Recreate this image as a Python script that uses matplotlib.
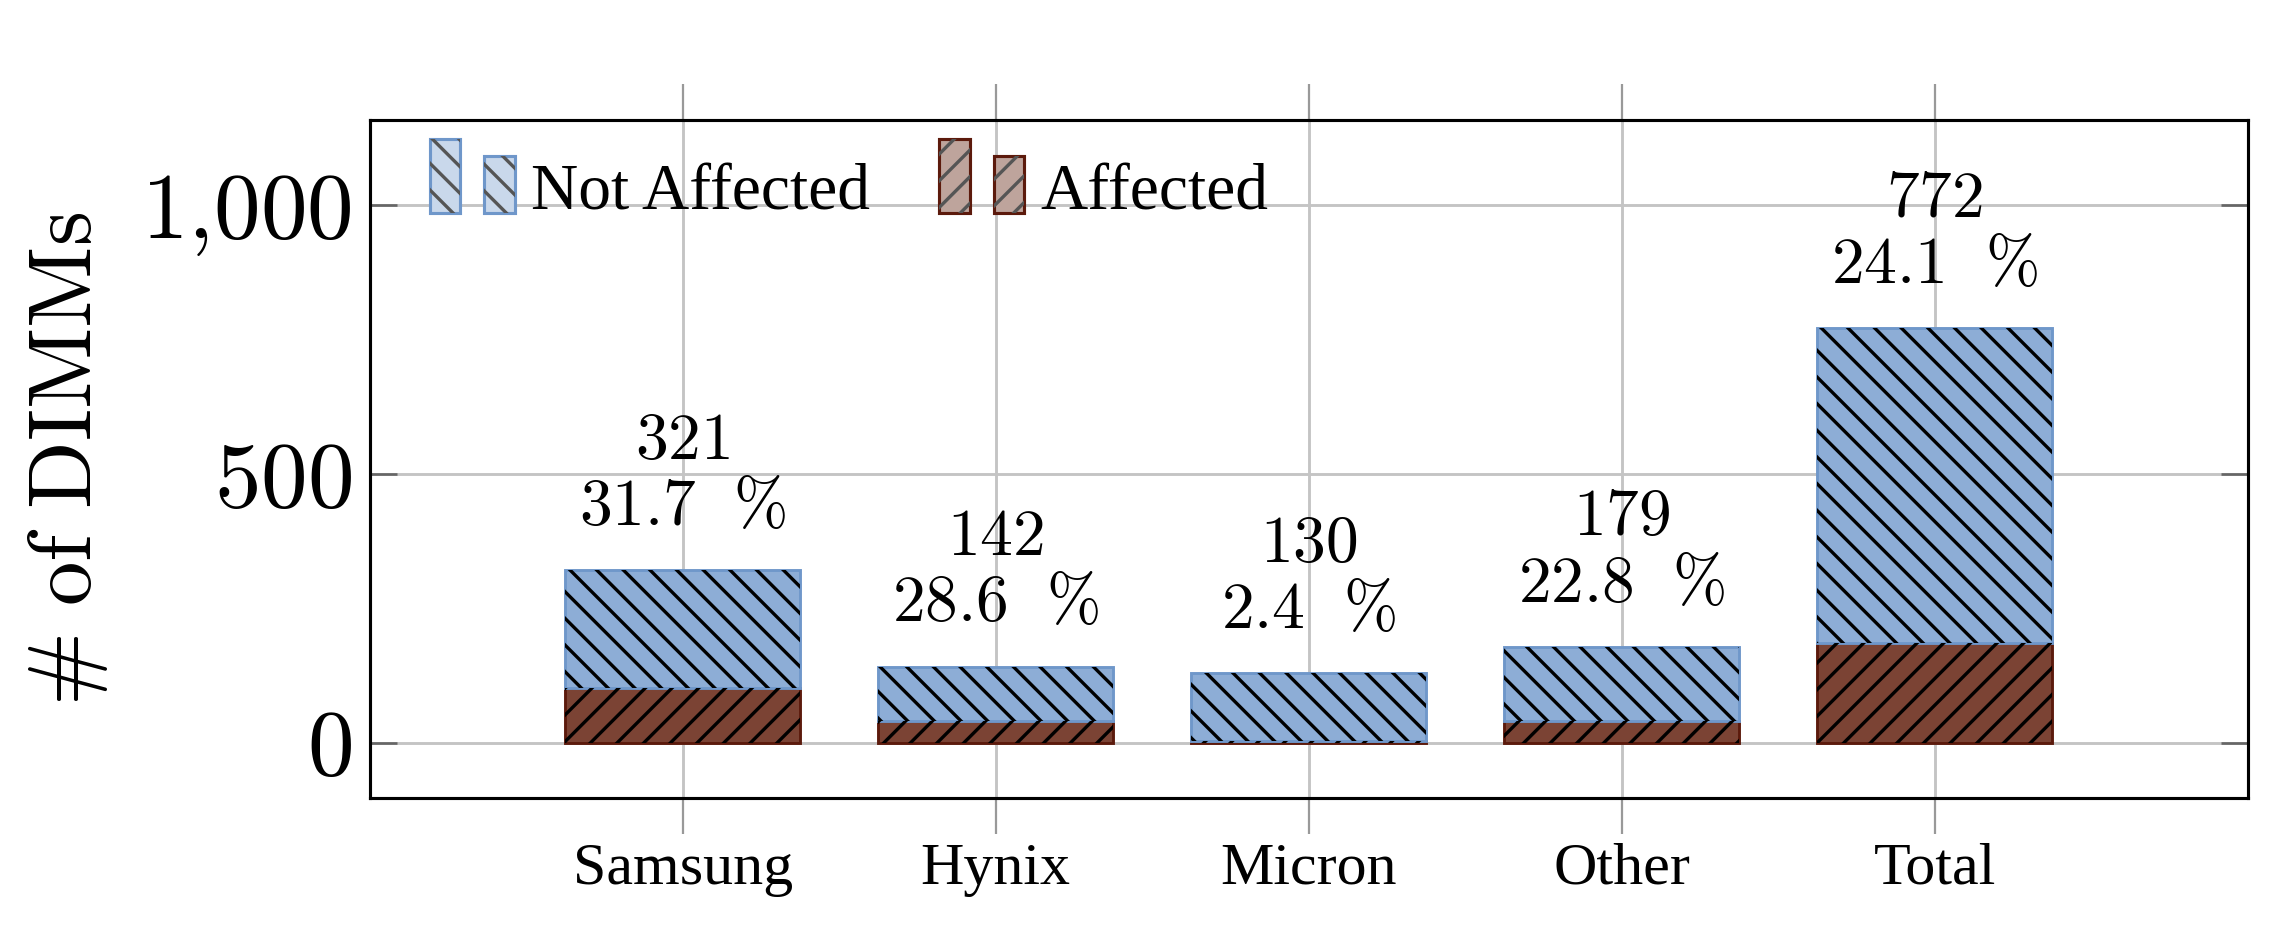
import matplotlib
matplotlib.use('Agg')
import matplotlib.pyplot as plt
from matplotlib.patches import Patch, Rectangle
from matplotlib.legend_handler import HandlerBase
from matplotlib.ticker import FuncFormatter

vendors = ['Samsung', 'Hynix', 'Micron', 'Other', 'Total']
totals = [321, 142, 130, 179, 772]
affected = [102, 41, 3, 41, 186]
percents = [31.7, 28.6, 2.4, 22.8, 24.1]
not_affected = [t - a for t, a in zip(totals, affected)]

blue_face = '#8dadd6'
blue_edge = '#6f97ca'
brown_face = '#7b4334'
brown_edge = '#5c1a0c'

plt.rcParams['mathtext.fontset'] = 'cm'
plt.rcParams['font.family'] = ['Liberation Serif', 'DejaVu Serif']
plt.rcParams['hatch.linewidth'] = 1.5


class TwoBarHandler(HandlerBase):
    # pgfplots style ybar legend image: two small bars of different heights
    def __init__(self, face, edge, hatch):
        super().__init__()
        self.face = face
        self.edge = edge
        self.hatch = hatch

    def create_artists(self, legend, orig_handle, xdescent, ydescent,
                       width, height, fontsize, trans):
        bw = width * 0.36
        y0 = -ydescent - height * 0.08
        arts = []
        for x0, h in [(0, height * 1.62), (width * 0.64, height * 1.25)]:
            r = Rectangle((x0 - xdescent, y0), bw, h,
                          facecolor=self.face, edgecolor=self.edge,
                          linewidth=1.4, transform=trans)
            o = Rectangle((x0 - xdescent, y0), bw, h,
                          facecolor='none', edgecolor='#555555',
                          linewidth=0, hatch=self.hatch, transform=trans)
            arts += [r, o]
        return arts


fig = plt.figure(figsize=(14.35, 5.7875), dpi=160)
ax = fig.add_axes([0.161, 0.138, 0.818, 0.732])

x = list(range(len(vendors)))
w = 0.75

ax.bar(x, affected, w, color=brown_face, edgecolor=brown_edge, linewidth=1.3, zorder=2)
ax.bar(x, affected, w, facecolor='none', edgecolor='black', linewidth=0, hatch='//', zorder=3)
ax.bar(x, not_affected, w, bottom=affected, color=blue_face, edgecolor=blue_edge, linewidth=1.3, zorder=2)
ax.bar(x, not_affected, w, bottom=affected, facecolor='none', edgecolor='black', linewidth=0, hatch='\\\\', zorder=3)

for i in x:
    ax.annotate('$%d$\n$%.1f\\ \\ \\%%$' % (totals[i], percents[i]),
                (i, totals[i]), xytext=(0, 14), textcoords='offset points',
                ha='center', va='bottom', fontsize=29.5, linespacing=1.15)

ax.set_xlim(-1, 5)
ax.set_ylim(-103, 1158)
ax.set_xticks(x)
ax.set_xticklabels(vendors, fontsize=27)
ax.set_yticks([0, 500, 1000])
ax.yaxis.set_major_formatter(FuncFormatter(lambda v, p: '$' + format(int(v), ',').replace(',', '{,}') + '$'))
ax.tick_params(axis='y', labelsize=42, direction='in', length=12, width=1.2,
               color='#666666', left=True, right=True, pad=8)
ax.tick_params(axis='x', direction='out', length=16, width=1.0, color='#999999',
               top=True, bottom=True, pad=4)
ax.set_ylabel(r'$\#\ \mathrm{of\ DIMMs}$', fontsize=40, labelpad=14)

ax.grid(True, color='#c4c4c4', linewidth=1.3)
ax.set_axisbelow(True)
for s in ax.spines.values():
    s.set_linewidth(1.4)
    s.set_color('black')

h1 = Patch(label='Not Affected')
h2 = Patch(label='Affected')
ax.legend(handles=[h1, h2], loc='upper left', ncol=2, frameon=False,
          fontsize=29.5, handlelength=1.3, handletextpad=0.25, columnspacing=1.05,
          borderaxespad=0.0, bbox_to_anchor=(0.018, 0.975),
          handler_map={h1: TwoBarHandler('#c9d8eb', blue_edge, '\\\\'),
                       h2: TwoBarHandler('#bea49c', brown_edge, '//')})

fig.savefig('out.png', dpi=160)
